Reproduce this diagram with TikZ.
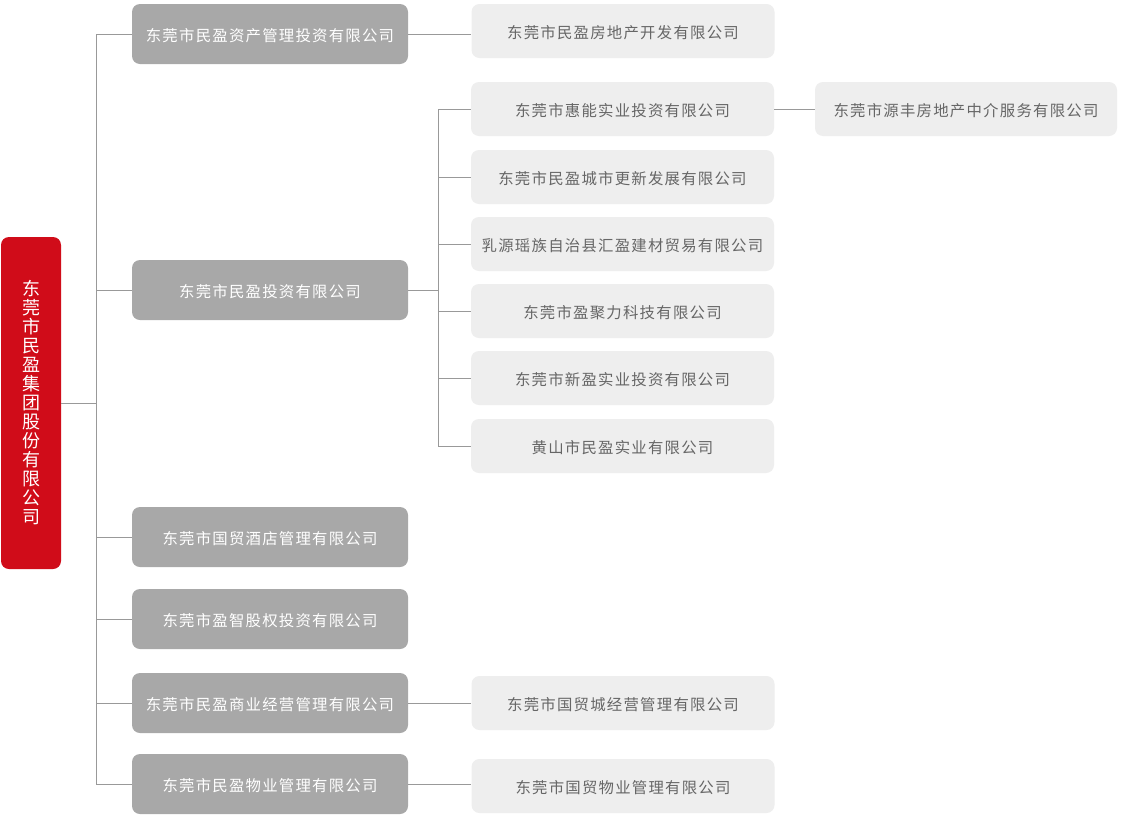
\documentclass[tikz,border=0pt]{standalone}
\usepackage{fontspec}
\setmainfont{Noto Sans CJK SC}
\newfontfamily\cjk[LetterSpace=8]{Noto Sans CJK SC}
\newfontfamily\cjkroot{Noto Sans CJK SC}
\definecolor{rootred}{HTML}{D00C19}
\definecolor{midgrey}{HTML}{A8A8A8}
\definecolor{leafgrey}{HTML}{EEEEEE}
\definecolor{leaftext}{HTML}{666666}
\definecolor{linegrey}{HTML}{999999}
\begin{document}
\begin{tikzpicture}[x=1pt,y=-1pt,
  rootbox/.style={fill=rootred, rounded corners=8pt, minimum width=60pt, minimum height=332pt, inner sep=0pt, text=white, font=\cjkroot\fontsize{18}{19}\selectfont, align=center},
  midbox/.style={fill=midgrey, rounded corners=8pt, minimum width=276pt, minimum height=60pt, inner sep=0pt, text=white, text height=17pt, text depth=1.8pt, font=\cjk\fontsize{15.4}{17}\selectfont},
  leafbox/.style={fill=leafgrey, rounded corners=8pt, minimum width=303pt, minimum height=54pt, inner sep=0pt, text=leaftext, text height=17pt, text depth=1.8pt, font=\cjk\fontsize{15.4}{17}\selectfont},
  link/.style={draw=linegrey, line width=1pt}]
\fill[white] (0,0) rectangle (1130,817);
\useasboundingbox (0,0) rectangle (1130,817);

\node[rootbox] (root) at (31,403) {东\\莞\\市\\民\\盈\\集\\团\\股\\份\\有\\限\\公\\司};

\node[midbox] (A) at (270,34) {东莞市民盈资产管理投资有限公司};
\node[midbox] (B) at (270,290) {东莞市民盈投资有限公司};
\node[midbox] (C) at (270,537) {东莞市国贸酒店管理有限公司};
\node[midbox] (D) at (270,619) {东莞市盈智股权投资有限公司};
\node[midbox] (E) at (270,703) {东莞市民盈商业经营管理有限公司};
\node[midbox] (F) at (270,784) {东莞市民盈物业管理有限公司};

\node[leafbox] (A1) at (623,31) {东莞市民盈房地产开发有限公司};
\node[leafbox] (B1) at (622.5,109) {东莞市惠能实业投资有限公司};
\node[leafbox] (B2) at (622.5,177) {东莞市民盈城市更新发展有限公司};
\node[leafbox] (B3) at (622.5,244) {乳源瑶族自治县汇盈建材贸易有限公司};
\node[leafbox] (B4) at (622.5,311) {东莞市盈聚力科技有限公司};
\node[leafbox] (B5) at (622.5,378) {东莞市新盈实业投资有限公司};
\node[leafbox] (B6) at (622.5,446) {黄山市民盈实业有限公司};
\node[leafbox, minimum width=302pt] (G) at (966,109) {东莞市源丰房地产中介服务有限公司};
\node[leafbox] (E1) at (623,703) {东莞市国贸城经营管理有限公司};
\node[leafbox] (F1) at (623,786) {东莞市国贸物业管理有限公司};

\coordinate (trunkTop) at (96,34);
\coordinate (trunkBot) at (96,784);
\coordinate (bTop) at (438,109);
\coordinate (bBot) at (438,446);

\draw[link] (trunkTop) -- (trunkBot);
\draw[link] (root.east) -- (root.east -| trunkTop);
\foreach \n in {A,B,C,D,E,F}{
  \draw[link] (\n.west) -- (\n.west -| trunkTop);
}
\draw[link] (bTop) -- (bBot);
\draw[link] (B.east) -- (B.east -| bTop);
\foreach \n in {B1,B2,B3,B4,B5,B6}{
  \draw[link] (\n.west) -- (\n.west -| bTop);
}
\draw[link] (A.east) -- (A.east -| A1.west);
\draw[link] (B1.east) -- (G.west);
\draw[link] (E.east) -- (E1.west |- E.east);
\draw[link] (F.east) -- (F1.west |- F.east);
\end{tikzpicture}
\end{document}
